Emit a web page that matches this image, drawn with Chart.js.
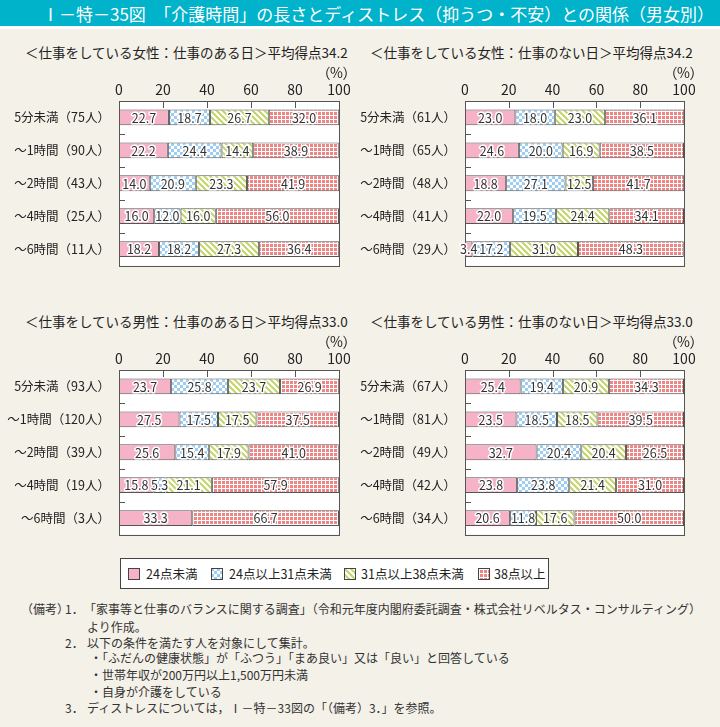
<!DOCTYPE html>
<html lang="ja">
<head>
<meta charset="utf-8">
<title>介護時間の長さとディストレスとの関係</title>
<script src="https://cdn.jsdelivr.net/npm/chart.js@4.4.1/dist/chart.umd.min.js"></script>
<style>
  html, body { margin: 0; padding: 0; }
  body {
    width: 720px; height: 727px; position: relative; overflow: hidden;
    background: #f4f1e9; color: #222;
    font-family: "Noto Sans CJK JP", "Noto Sans", sans-serif;
  }
  #head { position: absolute; left: 0; top: 0; width: 720px; height: 26px; background: #00b2ca; border-bottom: 3px solid #fff; }
  #head span { position: absolute; left: 42px; top: 0; line-height: 27px; font-size: 17px; color: #fff; white-space: nowrap; }
  canvas { position: absolute; }
  .ptitle { position: absolute; font-size: 13.5px; line-height: 18px; white-space: nowrap; z-index: 2; }
  .pct { position: absolute; font-size: 14px; line-height: 18px; white-space: nowrap; font-feature-settings: "palt"; z-index: 2; }
  #legend { position: absolute; left: 120px; top: 558px; width: 427px; height: 29px; background: #fff; border: 1px solid #444; }
  #legend canvas { position: absolute; top: 9px; }
  #legend span { position: absolute; top: 0; line-height: 30px; font-size: 12.5px; white-space: nowrap; }
  .note { position: absolute; font-size: 12px; line-height: 16px; white-space: nowrap; color: #333; }
</style>
</head>
<body>
<div id="head"><span>Ⅰ－特－35図　「介護時間」の長さとディストレス（抑うつ・不安）との関係（男女別）</span></div>

<canvas id="c1" width="360" height="220" style="left:0;top:62px"></canvas>
<canvas id="c2" width="360" height="220" style="left:360px;top:62px"></canvas>
<canvas id="c3" width="360" height="220" style="left:0;top:331px"></canvas>
<canvas id="c4" width="360" height="220" style="left:360px;top:331px"></canvas>

<div class="ptitle" style="left:25px;top:43px">＜仕事をしている女性：仕事のある日＞平均得点34.2</div>
<div class="ptitle" style="left:370px;top:43px">＜仕事をしている女性：仕事のない日＞平均得点34.2</div>
<div class="ptitle" style="left:25px;top:312px">＜仕事をしている男性：仕事のある日＞平均得点33.0</div>
<div class="ptitle" style="left:370px;top:312px">＜仕事をしている男性：仕事のない日＞平均得点33.0</div>
<div class="pct" style="right:370px;top:63px">（%）</div>
<div class="pct" style="right:23px;top:63px">（%）</div>
<div class="pct" style="right:370px;top:332px">（%）</div>
<div class="pct" style="right:23px;top:332px">（%）</div>

<div id="legend">
  <canvas id="lg0" width="12" height="12" style="left:7px"></canvas><span style="left:25px">24点未満</span>
  <canvas id="lg1" width="12" height="12" style="left:90px"></canvas><span style="left:108px">24点以上31点未満</span>
  <canvas id="lg2" width="12" height="12" style="left:223px"></canvas><span style="left:240px">31点以上38点未満</span>
  <canvas id="lg3" width="12" height="12" style="left:357px"></canvas><span style="left:373px">38点以上</span>
</div>

<div class="note" style="left:21px;top:601px">（備考）</div>
<div class="note" style="left:65px;top:601px">1．</div>
<div class="note" style="left:84px;top:601px">「家事等と仕事のバランスに関する調査」（令和元年度内閣府委託調査・株式会社リベルタス・コンサルティング）</div>
<div class="note" style="left:87px;top:619px">より作成。</div>
<div class="note" style="left:65px;top:635px">2．</div>
<div class="note" style="left:87px;top:635px">以下の条件を満たす人を対象にして集計。</div>
<div class="note" style="left:90px;top:650px">・「ふだんの健康状態」が「ふつう」「まあ良い」又は「良い」と回答している</div>
<div class="note" style="left:90px;top:667px">・世帯年収が200万円以上1,500万円未満</div>
<div class="note" style="left:90px;top:684px">・自身が介護をしている</div>
<div class="note" style="left:65px;top:700px">3．</div>
<div class="note" style="left:87px;top:700px">ディストレスについては，Ⅰ－特－33図の「（備考）3．」を参照。</div>

<script>
(function () {
  var SERIES = ['24点未満', '24点以上31点未満', '31点以上38点未満', '38点以上'];
  var X_TICKS = [0, 20, 40, 60, 80, 100];

  // 女性・仕事のある日
  var CATS_FW = ['5分未満（75人）', '～1時間（90人）', '～2時間（43人）', '～4時間（25人）', '～6時間（11人）'];
  var FW_LT24 = [22.7, 22.2, 14.0, 16.0, 18.2];
  var FW_24_31 = [18.7, 24.4, 20.9, 12.0, 18.2];
  var FW_31_38 = [26.7, 14.4, 23.3, 16.0, 27.3];
  var FW_GE38 = [32.0, 38.9, 41.9, 56.0, 36.4];

  // 女性・仕事のない日
  var CATS_FO = ['5分未満（61人）', '～1時間（65人）', '～2時間（48人）', '～4時間（41人）', '～6時間（29人）'];
  var FO_LT24 = [23.0, 24.6, 18.8, 22.0, 3.4];
  var FO_24_31 = [18.0, 20.0, 27.1, 19.5, 17.2];
  var FO_31_38 = [23.0, 16.9, 12.5, 24.4, 31.0];
  var FO_GE38 = [36.1, 38.5, 41.7, 34.1, 48.3];

  // 男性・仕事のある日
  var CATS_MW = ['5分未満（93人）', '～1時間（120人）', '～2時間（39人）', '～4時間（19人）', '～6時間（3人）'];
  var MW_LT24 = [23.7, 27.5, 25.6, 15.8, 33.3];
  var MW_24_31 = [25.8, 17.5, 15.4, 5.3, 0];
  var MW_31_38 = [23.7, 17.5, 17.9, 21.1, 0];
  var MW_GE38 = [26.9, 37.5, 41.0, 57.9, 66.7];

  // 男性・仕事のない日
  var CATS_MO = ['5分未満（67人）', '～1時間（81人）', '～2時間（49人）', '～4時間（42人）', '～6時間（34人）'];
  var MO_LT24 = [25.4, 23.5, 32.7, 23.8, 20.6];
  var MO_24_31 = [19.4, 18.5, 20.4, 23.8, 11.8];
  var MO_31_38 = [20.9, 18.5, 20.4, 21.4, 17.6];
  var MO_GE38 = [34.3, 39.5, 26.5, 31.0, 50.0];

  var FONT = '"Noto Sans CJK JP", "Noto Sans", sans-serif';
  Chart.defaults.font.family = FONT;

  var PINK = '#f6b3c7';
  var BLUE = '#9ecdf2';
  var GREEN = '#c3d468';
  var RED = '#f08585';

  // hatch fills
  function tile(size, draw) {
    var c = document.createElement('canvas');
    c.width = c.height = size;
    var x = c.getContext('2d');
    draw(x, size);
    return x.createPattern(c, 'repeat');
  }
  var FILLS = [
    PINK,
    tile(6, function (x) {
      x.fillStyle = '#fff'; x.fillRect(0, 0, 6, 6);
      x.fillStyle = BLUE; x.fillRect(0, 0, 3, 3); x.fillRect(3, 3, 3, 3);
    }),
    tile(6, function (x) {
      x.fillStyle = '#fff'; x.fillRect(0, 0, 6, 6);
      x.strokeStyle = GREEN; x.lineWidth = 2;
      x.beginPath();
      for (var k = -1; k <= 1; k++) { x.moveTo(k * 6 - 1, -1); x.lineTo(k * 6 + 7, 7); }
      x.stroke();
    }),
    tile(4, function (x) {
      x.fillStyle = RED; x.fillRect(0, 0, 4, 4);
      x.fillStyle = '#fff'; x.fillRect(0, 1, 4, 1); x.fillRect(1, 0, 1, 4);
    })
  ];

  var frame = {
    id: 'frame',
    beforeDatasetsDraw: function (chart) {
      var a = chart.chartArea, ctx = chart.ctx;
      ctx.save();
      ctx.fillStyle = '#fff';
      ctx.fillRect(a.left, a.top, a.right - a.left, a.bottom - a.top);
      ctx.restore();
    },
    afterDatasetsDraw: function (chart) {
      var a = chart.chartArea, ctx = chart.ctx;
      var xs = chart.scales.x, ys = chart.scales.y;
      ctx.save();
      ctx.strokeStyle = '#555';
      ctx.lineWidth = 1;
      ctx.beginPath();
      X_TICKS.slice(1, -1).forEach(function (v) {
        var px = Math.round(xs.getPixelForValue(v)) + 0.5;
        ctx.moveTo(px, a.top); ctx.lineTo(px, a.top + 7);
      });
      for (var i = 0; i < ys.ticks.length - 1; i++) {
        var py = Math.round((ys.getPixelForValue(i) + ys.getPixelForValue(i + 1)) / 2) + 0.5;
        ctx.moveTo(a.left, py); ctx.lineTo(a.left + 6, py);
      }
      ctx.stroke();
      ctx.strokeRect(Math.round(a.left) + 0.5, Math.round(a.top) + 0.5,
        Math.round(a.right - a.left), Math.round(a.bottom - a.top));
      ctx.restore();
    }
  };

  var barLabels = {
    id: 'barLabels',
    afterDatasetsDraw: function (chart) {
      var ctx = chart.ctx;
      ctx.save();
      ctx.font = '12.5px ' + FONT;
      ctx.textAlign = 'center';
      ctx.textBaseline = 'middle';
      ctx.lineJoin = 'round';
      chart.data.datasets.forEach(function (ds, i) {
        chart.getDatasetMeta(i).data.forEach(function (bar, j) {
          var v = ds.data[j];
          if (!v) return;
          var t = v.toFixed(1);
          var cx = (bar.x + bar.base) / 2;
          ctx.strokeStyle = '#fff'; ctx.lineWidth = 3;
          ctx.strokeText(t, cx, bar.y + 0.5);
          ctx.fillStyle = '#333';
          ctx.fillText(t, cx, bar.y + 0.5);
        });
      });
      ctx.restore();
    }
  };

  function panel(id, yWidth, padRight, cats, series) {
    new Chart(document.getElementById(id), {
      type: 'bar',
      data: {
        labels: cats,
        datasets: series.map(function (vals, i) {
          return {
            label: SERIES[i], data: vals,
            backgroundColor: FILLS[i], borderColor: '#555', borderWidth: 1, borderSkipped: false,
            barPercentage: 0.48, categoryPercentage: 1
          };
        })
      },
      options: {
        indexAxis: 'y',
        responsive: false,
        animation: false,
        layout: { padding: { left: 0, right: padRight, top: 0, bottom: 5 } },
        plugins: { legend: { display: false }, tooltip: { enabled: false } },
        scales: {
          x: {
            position: 'top', stacked: true, min: X_TICKS[0], max: X_TICKS[X_TICKS.length - 1],
            grid: { display: false, drawTicks: false }, border: { display: false },
            ticks: { stepSize: 20, padding: 3, maxRotation: 0, color: '#222', font: { size: 14 } },
            afterFit: function (s) { s.height = 39; }
          },
          y: {
            stacked: true,
            grid: { display: false, drawTicks: false }, border: { display: false },
            ticks: { padding: 9, autoSkip: false, color: '#222', font: { size: 12.5 } },
            afterFit: function (s) { s.width = yWidth; }
          }
        }
      },
      plugins: [frame, barLabels]
    });
  }

  panel('c1', 119, 21, CATS_FW, [FW_LT24, FW_24_31, FW_31_38, FW_GE38]);
  panel('c2', 105, 36, CATS_FO, [FO_LT24, FO_24_31, FO_31_38, FO_GE38]);
  panel('c3', 119, 21, CATS_MW, [MW_LT24, MW_24_31, MW_31_38, MW_GE38]);
  panel('c4', 105, 36, CATS_MO, [MO_LT24, MO_24_31, MO_31_38, MO_GE38]);

  // legend swatches
  FILLS.forEach(function (f, i) {
    var c = document.getElementById('lg' + i).getContext('2d');
    c.fillStyle = f; c.fillRect(0, 0, 12, 12);
    c.strokeStyle = '#444'; c.lineWidth = 1; c.strokeRect(0.5, 0.5, 11, 11);
  });
})();
</script>
</body>
</html>
